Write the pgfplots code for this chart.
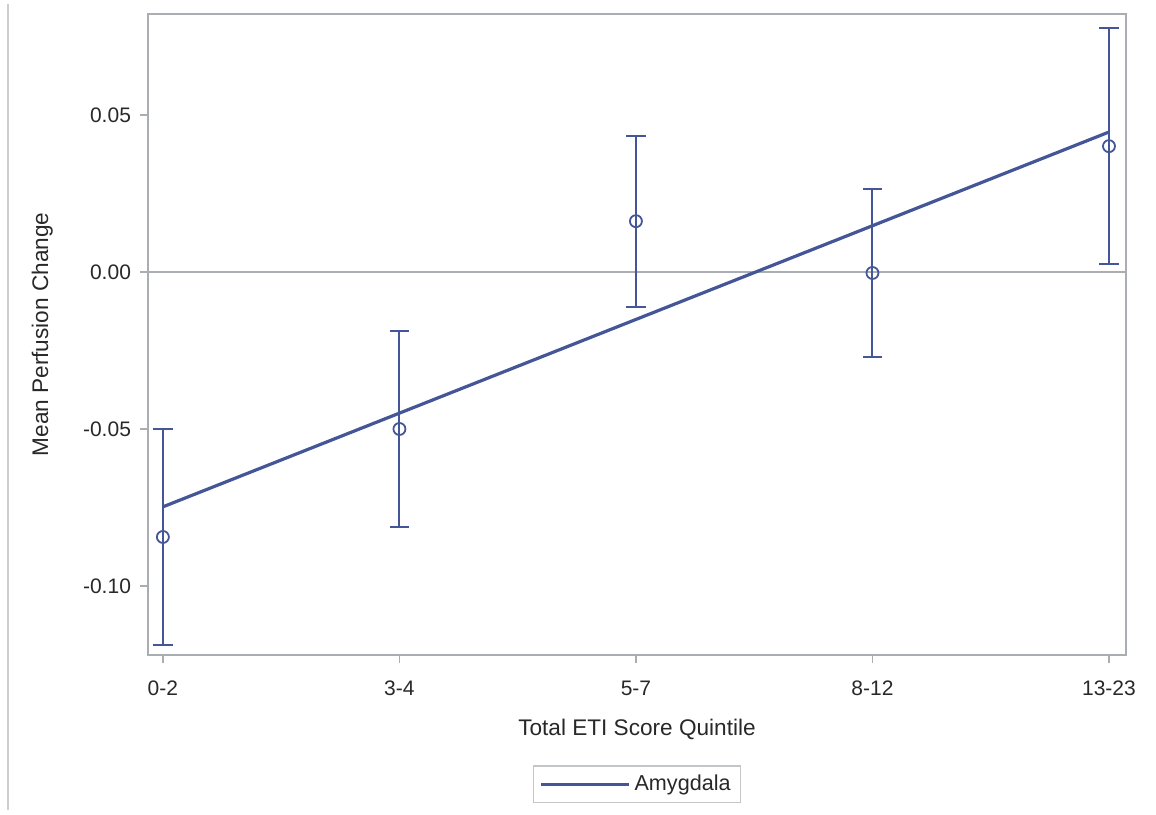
\documentclass[border=0pt]{standalone}
\usepackage{pgfplots}
\pgfplotsset{compat=1.18}
\usepackage{fontspec}
\setmainfont{Liberation Sans}
\definecolor{sasblue}{RGB}{68,86,152}
\definecolor{framegray}{RGB}{170,174,178}
\definecolor{txt}{RGB}{40,40,40}

% mean perfusion change per ETI quintile, with symmetric error half-widths
\pgfplotstableread{
x   y        e
0  -0.0844   0.0344
1  -0.0500   0.0312
2   0.0162   0.0272
3  -0.0003   0.0269
4   0.0401   0.0375
}\means

% fitted linear trend
\pgfplotstableread{
x   y
0  -0.0748
4   0.0446
}\trend

\begin{document}
\begin{tikzpicture}[x=1pt,y=1pt]
\path[draw=framegray!60, line width=0.8pt] (4,-2) -- (4,-405);
\begin{axis}[
  at={(74pt,-327.5pt)}, anchor=south west,
  scale only axis, width=489pt, height=320.5pt,
  xmin=-0.063, xmax=4.072,
  ymin=-0.1220, ymax=0.0822,
  xtick={0,1,2,3,4},
  xticklabels={0-2,3-4,5-7,8-12,13-23},
  ytick={-0.1,-0.05,0,0.05},
  /pgf/number format/.cd, fixed, fixed zerofill, precision=2, assume math mode=true,
  /pgfplots/.cd,
  xtick pos=bottom, ytick pos=left,
  tick align=outside,
  major tick length=4pt,
  tick style={framegray, line width=0.8pt},
  axis line style={framegray, line width=0.8pt},
  ticklabel style={font=\fontsize{10.5}{12}\selectfont, text=txt},
  xticklabel style={yshift=-5.5pt},
  yticklabel style={xshift=-1pt},
  xlabel={Total ETI Score Quintile},
  ylabel={Mean Perfusion Change},
  every axis x label/.style={at={(axis description cs:0.5,-0.1154)}, anchor=center,
    font=\fontsize{11.3}{13}\selectfont, text=txt},
  every axis y label/.style={at={(axis description cs:-0.1082,0.5)}, anchor=center,
    rotate=90, font=\fontsize{11.3}{13}\selectfont, text=txt},
  legend style={at={(0.5,-0.1716)}, anchor=north, draw=framegray!70,
    line width=0.8pt, font=\fontsize{10.8}{13}\selectfont, text=txt,
    inner xsep=3pt, inner ysep=2.5pt},
  legend image code/.code={\draw[#1, line width=1.6pt] (0pt,0pt) -- (44pt,0pt);},
  legend cell align=left,
  clip=true,
]
% zero reference line
\addplot[framegray, line width=0.9pt, forget plot] coordinates {(-1,0) (5,0)};
% group means with error bars
\addplot[sasblue, only marks, mark=o, mark size=3pt, forget plot,
  mark options={line width=0.9pt},
  error bars/.cd, y dir=both, y explicit,
  error bar style={line width=1pt, sasblue},
  error mark options={mark size=4.8pt, line width=1pt, sasblue, rotate=90}]
  table[x=x, y=y, y error=e]{\means};
% linear trend
\addplot[sasblue, line width=1.6pt] table[x=x, y=y]{\trend};
\legend{Amygdala}
\end{axis}
\pgfresetboundingbox
\path (0,0) rectangle (578,-407);
\end{tikzpicture}
\end{document}
